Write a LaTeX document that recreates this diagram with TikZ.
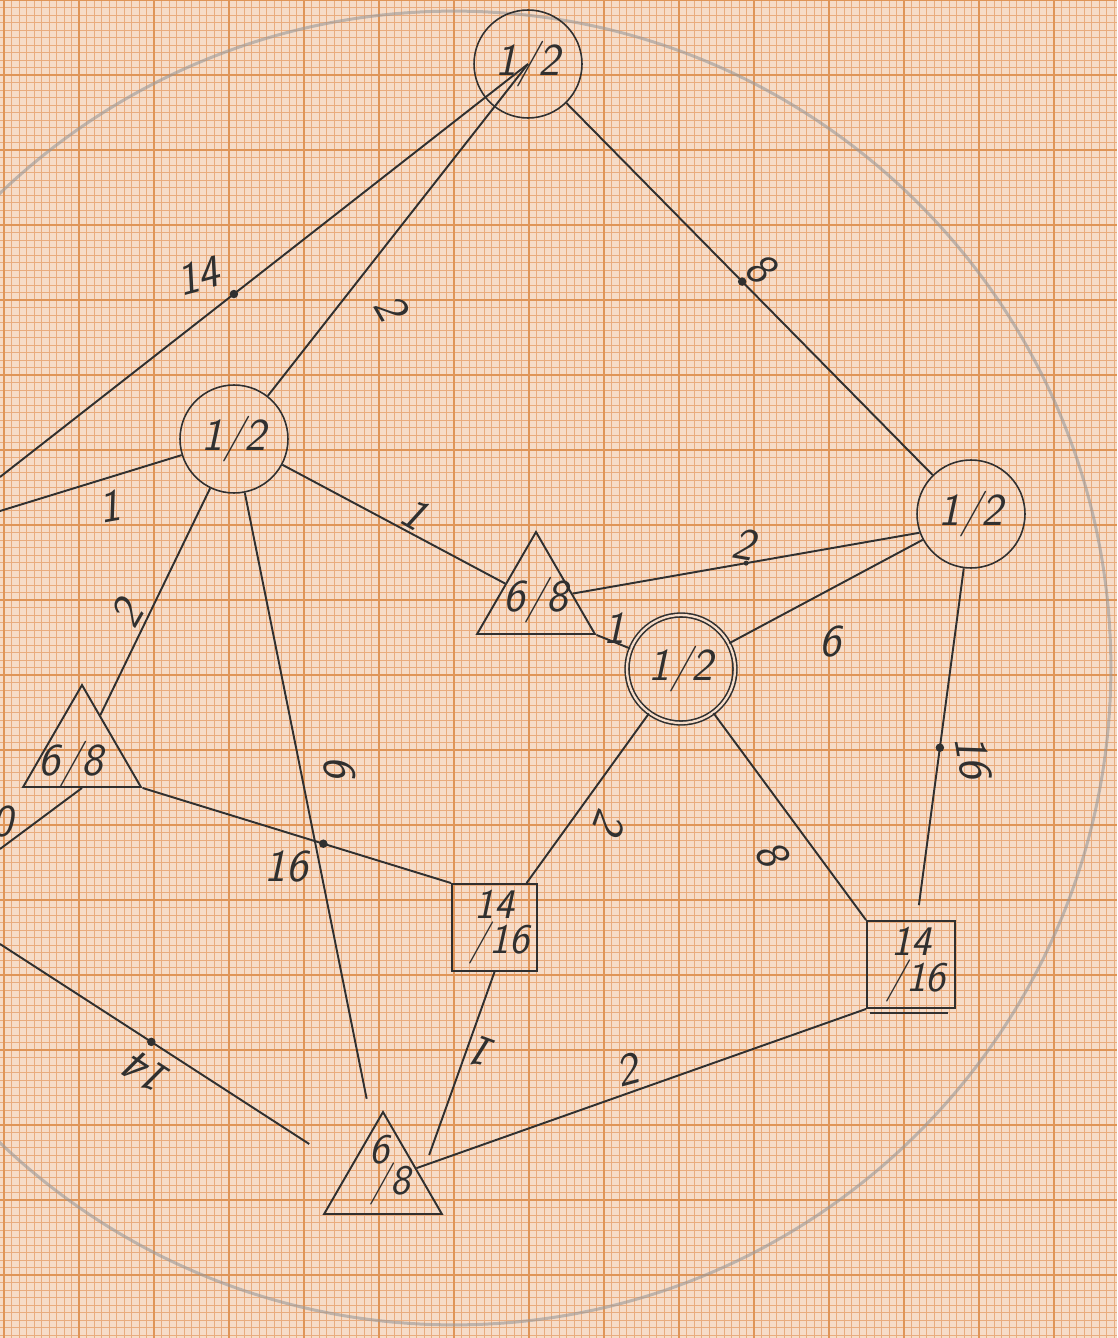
\documentclass[tikz,border=0pt]{standalone}
\usetikzlibrary{shapes.geometric}
\definecolor{paper}{HTML}{F6DCC8}
\definecolor{gridline}{HTML}{E9AC7E}
\definecolor{gridbold}{HTML}{DF9558}
\definecolor{pencil}{HTML}{303030}

\begin{document}
\begin{tikzpicture}[
  x=0.02cm,
  y=-0.02cm,
  every node/.style={font=\fontsize{26}{26}\selectfont\sffamily\slshape, text=pencil, inner sep=0.5pt},
  ring/.style={circle, draw=pencil, line width=0.9pt, minimum size=2.16cm, inner sep=0pt},
  tri/.style={regular polygon, regular polygon sides=3, draw=pencil, line width=1.1pt, minimum size=2.72cm, inner sep=0pt},
  box/.style={rectangle, draw=pencil, line width=1.1pt, inner sep=0pt, minimum height=1.74cm},
  inbox/.style={align=center, font=\fontsize{24}{24}\selectfont\sffamily\slshape},
  wire/.style={draw=pencil, line width=1.1pt},
  dot/.style={circle, fill=pencil, inner sep=0pt, minimum size=0.17cm},
  smalldot/.style={circle, fill=pencil, inner sep=0pt, minimum size=0.1cm}
]
  \useasboundingbox (0,0) rectangle (1117,1338);
  \clip (0,0) rectangle (1117,1338);

  % Graph paper: 1 mm, 5 mm and 1 cm rulings
  \fill[paper] (0,0) rectangle (1117,1338);
  \foreach \k in {0,...,149}
    \draw[gridline, line width=0.45pt] ({-3.5+7.5*\k},0) -- ++(0,1338);
  \foreach \k in {0,...,178}
    \draw[gridline, line width=0.45pt] (0,{7.5*\k}) -- ++(1117,0);
  \foreach \k in {0,...,29}
    \draw[gridline, line width=0.75pt] ({4+37.5*\k},0) -- ++(0,1338);
  \foreach \k in {0,...,35}
    \draw[gridline, line width=0.75pt] (0,{37.5*\k}) -- ++(1117,0);
  \foreach \k in {0,...,14}
    \draw[gridbold, line width=0.95pt] ({4+75*\k},0) -- ++(0,1338);
  \foreach \k in {0,...,17}
    \draw[gridbold, line width=0.95pt] (0,{75*\k}) -- ++(1117,0);

  % Outer pencil circle
  \draw[black!40, opacity=0.6, line width=0.06cm] (454,668) circle[radius=13.14cm];

  % Circles
  \node[ring] (C1) at (528,64) {1/2};
  \node[ring] (C2) at (234,439) {1/2};
  \node[ring] (C3) at (971,514) {1/2};
  \node[ring, double=paper, double distance=1.3pt] (C4) at (681,669) {1/2};

  % Triangles
  \node[tri, label={[name=T1t]center:6/8}] (T1) at (536,600) {};
  \node[tri, label={[name=T2t, xshift=-0.22cm, yshift=-0.22cm]center:6/8}] (T2) at (82,753) {};
  \node[tri, label={[name=T3t, inbox, xshift=-0.08cm, yshift=0.2cm]center:6\\[-6pt]\hspace{0.45cm}/8}] (T3) at (383,1180) {};

  % Squares
  \node[box, minimum width=1.7cm,
    label={[name=S1t, inbox]center:14\\[-4pt]\hspace{0.2cm}/16}] (S1) at (494.5,927.5) {};
  \node[box, minimum width=1.76cm,
    label={[name=S2t, inbox]center:14\\[-4pt]\hspace{0.2cm}/16}] (S2) at (911,964.5) {};
  \draw[pencil, line width=0.8pt] ([xshift=0.08cm, yshift=-0.08cm]S2.south west)
    -- ([xshift=-0.16cm, yshift=-0.08cm]S2.south east);

  % Loose ends at the paper edge
  \coordinate (W1) at (0,477);
  \coordinate (W2) at (0,511);
  \coordinate (W3) at (0,849);
  \coordinate (W4) at (0,944);

  % Connections
  \draw[wire] (C1.center) -- node[dot, pos=0.557] (d14a) {} (W1);
  \draw[wire] (C1.center) -- (C2);
  \draw[wire] (C1) -- node[dot, pos=0.48] (d8) {} (C3);
  \draw[wire] (C2) -- (W2);
  \draw[wire] (C2) -- (T1);
  \draw[wire] (C2) -- (T2);
  \draw[wire, shorten >=0.6cm] (C2) -- (T3);
  \draw[wire] (T2.corner 3) -- node[dot, pos=0.586] (d16a) {} (S1.north west);
  \draw[wire] (T2.side 2) -- (W3);
  \draw[wire, shorten >=0.94cm] (W4) -- node[dot, pos=0.434] (d14b) {} (T3.163);
  \draw[wire] (T1.corner 3) -- (C4);
  \draw[wire] (T1) -- node[smalldot, pos=0.5] (d2) {} (C3.200);
  \draw[wire] (C4) -- (C3);
  \draw[wire, shorten >=0.3cm] (C3) -- node[dot, pos=0.51] (d16b) {} (S2);
  \draw[wire] (C4) -- (S1);
  \draw[wire] (C4) -- (S2.north west);
  \draw[wire, shorten >=0.46cm] (S1.south) -- (T3.5);
  \draw[wire] (S2.south west) -- (T3);

  % Weights
  \node[rotate=15] (w14a) at (198,276) {14};
  \node[rotate=-60] (w2a) at (391,307) {2};
  \node[rotate=-40] (w8a) at (760,268) {8};
  \node[rotate=10] (w1a) at (109,507) {1};
  \node[rotate=-30] (w1b) at (414,514) {1};
  \node[rotate=60] (w2b) at (127,614) {2};
  \node[rotate=-10] (w2c) at (744,544) {2};
  \node (w1c) at (614,628) {1};
  \node (w6a) at (830,642) {6};
  \node[rotate=-80] (w16a) at (973,757) {16};
  \node[rotate=-85] (w6b) at (339,767) {6};
  \node (w16b) at (286,867) {16};
  \node[rotate=-110] (w2d) at (610,822) {2};
  \node[rotate=-60] (w8b) at (772,853) {8};
  \node[rotate=160] (w1d) at (484,1053) {1};
  \node[rotate=15] (w2e) at (627,1070) {2};
  \node[rotate=147] (w14b) at (148,1074) {14};
  \node (w0) at (2,822) {0};
\end{tikzpicture}
\end{document}
